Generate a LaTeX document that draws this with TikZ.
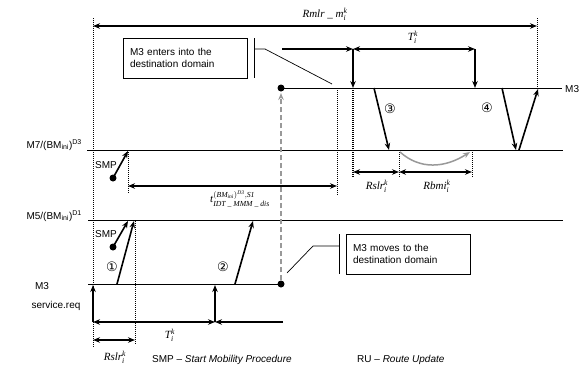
\documentclass[tikz,border=0pt]{standalone}
\usepackage{amsmath}
\usepackage{fontspec}
\setmainfont{Liberation Sans}
\newfontfamily\tms{Liberation Serif}
\newfontfamily\djv{DejaVu Sans}
\usetikzlibrary{arrows.meta}
\newcommand{\vi}[1]{\text{\tms\itshape #1}}
\begin{document}
\begin{tikzpicture}[x=1pt,y=-1pt,
  tl/.style={line width=0.7pt},
  dl/.style={line width=0.8pt,dash pattern=on 1pt off 1pt},
  dlthick/.style={line width=1.3pt,dash pattern=on 1pt off 1pt},
  arr/.style={line width=1.6pt,-{Stealth[length=7pt,width=5.5pt]}},
  darr/.style={line width=1.6pt,{Stealth[length=7pt,width=5.5pt]}-{Stealth[length=7pt,width=5.5pt]}},
  dot/.style={circle,fill=black,inner sep=0pt,minimum size=7pt},
  lab/.style={font=\fontsize{10}{12}\selectfont,inner sep=0pt},
  mlab/.style={font=\fontsize{11}{13}\selectfont,inner sep=0pt},
  circ/.style={font=\djv\fontsize{13}{15}\selectfont,inner sep=0pt},
  box/.style={draw,line width=0.7pt,minimum width=124pt,minimum height=40pt,inner sep=0pt,
    align=left,text width=110pt,font=\fontsize{10}{12}\selectfont},
  grayarr/.style={gray!80,line width=1.5pt,-{Stealth[length=7pt,width=5.5pt]}}
]
\useasboundingbox (0,0) rectangle (584,367);

% time lines
\coordinate (m7L) at (87,150); \coordinate (m7R) at (563,150);
\coordinate (m5L) at (88,220); \coordinate (m5R) at (563,220);
\coordinate (m3bL) at (88,284);
\coordinate (m3tR) at (562,88);
\node[dot] (dB) at (281,284) {};
\node[dot] (dT) at (281,88) {};
\draw[tl] (m7L) -- (m7R);
\draw[tl] (m5L) -- (m5R);
\draw[tl] (m3bL) -- (dB.center);
\draw[tl] (dT.center) -- (m3tR);

% line labels
\node[lab,anchor=base east] (lm7) at (82,148) {M7/(BM\textsubscript{ini})\textsuperscript{D3}};
\node[lab,anchor=base east] (lm5) at (82,219) {M5/(BM\textsubscript{ini})\textsuperscript{D1}};
\node[lab,anchor=base] (lm3) at (42,289) {M3};
\node[lab,anchor=base] (lsr) at (56,308) {service.req};
\node[lab,anchor=base west] (lm3r) at (565,92) {M3};

% vertical dotted reference lines
\coordinate (vA1) at (93,18); \coordinate (vA2) at (93,347);
\coordinate (vB1) at (537,18); \coordinate (vB2) at (537,88);
\coordinate (vC1) at (128,150); \coordinate (vC2) at (128,193);
\coordinate (vD1) at (135,221); \coordinate (vD2) at (135,345);
\coordinate (vE1) at (337,88); \coordinate (vE2) at (337,195);
\coordinate (vF1) at (353,88); \coordinate (vF2) at (353,177);
\coordinate (vG1) at (399,150); \coordinate (vG2) at (399,177);
\coordinate (vH1) at (472,150); \coordinate (vH2) at (472,177);
\draw[dl] (vA1) -- (vA2);
\draw[dl] (vB1) -- (vB2);
\draw[dl] (vC1) -- (vC2);
\draw[dl] (vD1) -- (vD2);
\draw[dl] (vE1) -- (vE2);
\draw[dlthick] (vF1) -- (vF2);
\draw[dl] (vG1) -- (vG2);
\draw[dl] (vH1) -- (vH2);

% Rmlr arrow
\coordinate (rmL) at (93,26); \coordinate (rmR) at (537,26);
\draw[darr] (rmL) -- (rmR);
\node[mlab] (lrm) at (325,14) {$\vi{Rmlr \_ m}_{\vi{i}}^{\vi{k}}$};

% top T arrow
\coordinate (tT0) at (282,49); \coordinate (tT1) at (353,49); \coordinate (tT2) at (475,49);
\coordinate (tT1d) at (353,88); \coordinate (tT2d) at (475,88);
\draw[arr] (tT0) -- (tT1);
\draw[darr] (tT1) -- (tT2);
\draw[arr] (tT1) -- (tT1d);
\draw[arr] (tT2) -- (tT2d);
\node[mlab] (ltT) at (413,37) {$\vi{T}_{\vi{i}}^{\vi{k}}$};

% t_IDT arrow
\coordinate (tiL) at (128,186); \coordinate (tiR) at (337,186);
\draw[darr] (tiL) -- (tiR);
\node[mlab] (lti) at (240,199) {$\vi{t}^{(\vi{BM}_{\vi{ini}})^{\vi{D3}},\vi{S1}}_{\vi{IDT \_ MMM \_ dis}}$};

% SMP arrows
\node[dot] (s1) at (113,178) {};
\coordinate (s1e) at (128,151);
\draw[arr] (s1.center) -- (s1e);
\node[dot] (s2) at (113,247) {};
\coordinate (s2e) at (128,221);
\draw[arr] (s2.center) -- (s2e);
\node[lab,anchor=base west] (ls1) at (95,168) {SMP};
\node[lab,anchor=base west] (ls2) at (95,237) {SMP};

% numbered arrows
\coordinate (a1s) at (117,284); \coordinate (a1e) at (134,221);
\draw[arr] (a1s) -- (a1e);
\node[circ] (c1) at (112,267) {①};
\coordinate (a2s) at (235,284); \coordinate (a2e) at (253,221);
\draw[arr] (a2s) -- (a2e);
\node[circ] (c2) at (223,267) {②};
\coordinate (a3s) at (374,88); \coordinate (a3e) at (389,150);
\draw[arr] (a3s) -- (a3e);
\node[circ] (c3) at (390,109) {③};
\coordinate (a4s) at (502,88); \coordinate (a4e) at (516,150);
\coordinate (a5s) at (519,150); \coordinate (a5e) at (538,89);
\draw[arr] (a4s) -- (a4e);
\draw[arr] (a5s) -- (a5e);
\node[circ] (c4) at (487,108) {④};

% gray movement arrows
\draw[grayarr,dashed,dash pattern=on 5pt off 3pt] (dB.north) -- (281,93);
\coordinate (g1) at (400,152); \coordinate (g2) at (470,152);
\draw[grayarr] (g1) .. controls (420,170) and (445,168) .. (g2);

% upper Rslr / Rbmi
\coordinate (r1) at (353,172); \coordinate (r2) at (399,172); \coordinate (r3) at (472,172);
\draw[darr] (r1) -- (r2);
\draw[darr] (r2) -- (r3);
\node[mlab] (lr1) at (377,186) {$\vi{Rslr}_{\vi{i}}^{\vi{k}}$};
\node[mlab] (lr2) at (437,186) {$\vi{Rbmi}_{\vi{i}}^{\vi{k}}$};

% bottom arrows
\coordinate (b1) at (93,322); \coordinate (b1u) at (93,285);
\coordinate (b2) at (215,322); \coordinate (b2u) at (215,285);
\coordinate (b3) at (283,322);
\draw[arr] (b1) -- (b1u);
\draw[arr] (b2) -- (b2u);
\draw[darr] (b1) -- (b2);
\draw[arr] (b3) -- (b2);
\node[mlab] (lbT) at (170,335) {$\vi{T}_{\vi{i}}^{\vi{k}}$};
\coordinate (q1) at (93,340); \coordinate (q2) at (135,340);
\draw[darr] (q1) -- (q2);
\node[mlab] (lbR) at (115,357) {$\vi{Rslr}_{\vi{i}}^{\vi{k}}$};

% callout boxes
\node[box] (bx1) at (185,58) {M3 enters into the\\destination domain};
\coordinate (k1a) at (254,38); \coordinate (k1b) at (254,78);
\coordinate (k1c) at (254,49); \coordinate (k1d) at (265,49); \coordinate (k1e) at (332,84);
\draw[tl] (k1a) -- (k1b);
\draw[tl] (k1c) -- (k1d) -- (k1e);
\node[box] (bx2) at (408,254) {M3 moves to the\\destination domain};
\coordinate (k2a) at (339,234); \coordinate (k2b) at (339,274);
\coordinate (k2c) at (339,246); \coordinate (k2d) at (313,246); \coordinate (k2e) at (287,273);
\draw[tl] (k2a) -- (k2b);
\draw[tl] (k2c) -- (k2d) -- (k2e);

% footer
\node[lab,anchor=base west] (f1) at (152,362) {SMP -- \textit{Start Mobility Procedure}};
\node[lab,anchor=base west] (f2) at (357,362) {RU -- \textit{Route Update}};
\end{tikzpicture}
\end{document}
